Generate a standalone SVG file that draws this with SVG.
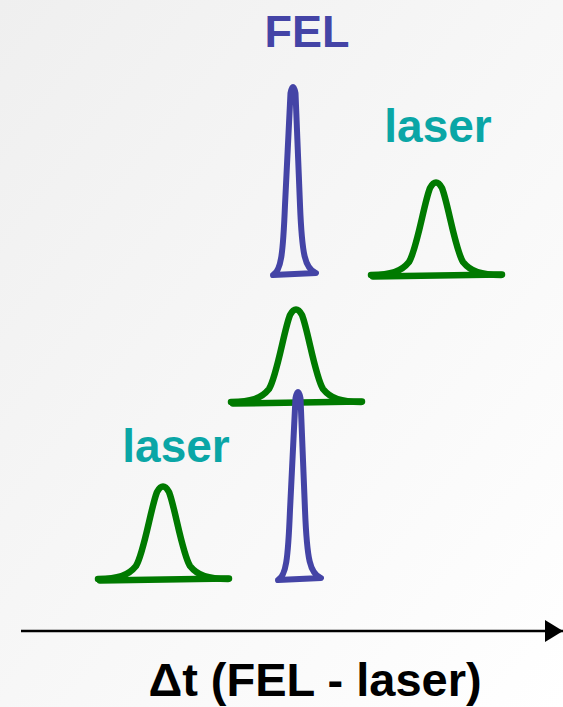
<svg xmlns="http://www.w3.org/2000/svg" width="563" height="707" viewBox="0 0 563 707">
<defs>
<linearGradient id="bg" x1="0" y1="0" x2="1" y2="1">
<stop offset="0" stop-color="#efefef"/>
<stop offset="1" stop-color="#ffffff"/>
</linearGradient>
<marker id="arr" markerWidth="18" markerHeight="22" refX="18" refY="11" orient="auto" markerUnits="userSpaceOnUse" viewBox="0 0 18 22">
<path d="M0 0 L18 11 L0 22 Z" fill="#000"/>
</marker>
<path id="laserCurve" d="M -65 92 C -45 91.5, -35 89, -27 79 C -19 66, -12 20, -6 5 Q 0 -6, 6 5 C 12 20, 19 66, 27 79 C 35 89, 45 91.5, 65 92"/>
<path id="laserBase" d="M -63 93.5 L 66 91.5"/>
<path id="felShape" d="M -20 190 C -12 186, -10 170, -8 120 L -2.5 8 Q 0 -4, 2.5 8 L 7 120 C 9 170, 12 184, 23 188 Z"/>
</defs>
<style>
.laser{fill:none;stroke:#007a00;stroke-width:6.5;stroke-linecap:round;stroke-linejoin:round}
.fel{fill:none;stroke:#4444a6;stroke-width:6;stroke-linecap:round;stroke-linejoin:round}
.lbl{font-family:"Liberation Sans",Arial,sans-serif;font-weight:bold;text-anchor:middle}
.lasertxt{fill:#0aa6a6;font-size:46px}
.feltxt{fill:#4444a6;font-size:45px}
</style>
<rect width="563" height="707" fill="url(#bg)"/>

<g id="label-fel"><text class="lbl feltxt" x="307" y="47">FEL</text></g>
<g id="label-laser-top"><text class="lbl lasertxt" x="438" y="142">laser</text></g>
<g id="label-laser-bottom"><text class="lbl lasertxt" x="176" y="462">laser</text></g>

<g id="fel-top" class="fel" transform="translate(293,85)"><use href="#felShape"/></g>
<g id="laser-top" class="laser" transform="translate(436,183)"><use href="#laserCurve"/><use href="#laserBase"/></g>

<g id="laser-mid" class="laser" transform="translate(296,310)"><use href="#laserCurve"/><use href="#laserBase"/></g>
<g id="fel-mid" class="fel" transform="translate(298,390)"><use href="#felShape"/></g>

<g id="laser-bottom" class="laser" transform="translate(163,487)"><use href="#laserCurve"/><use href="#laserBase"/></g>

<g id="connectors">
<line x1="21" y1="631" x2="563" y2="631" stroke="#000" stroke-width="2.5" marker-end="url(#arr)"/>
</g>
<g id="axis-label"><text class="lbl" x="315" y="696" font-size="47" fill="#000">Δt (FEL - laser)</text></g>
</svg>
